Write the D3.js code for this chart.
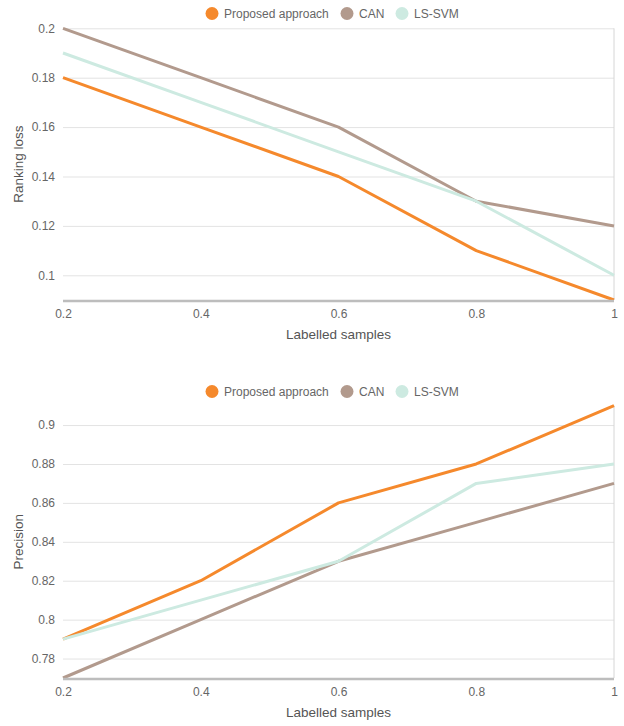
<!DOCTYPE html>
<html><head><meta charset="utf-8">
<script src="https://cdn.jsdelivr.net/npm/d3@7"></script>
<style>body{margin:0;background:#fff;}svg{display:block;font-family:"Liberation Sans",Arial,sans-serif;}</style>
</head><body>
<svg id="c" width="624" height="726"></svg>
<script>
const xValues = [0.2, 0.4, 0.6, 0.8, 1];
const seriesNames = ["Proposed approach", "CAN", "LS-SVM"];
const seriesColors = ["#f5892c", "#b29a8d", "#cdeae1"];
const rankProposed = [0.18, 0.16, 0.14, 0.11, 0.09];
const rankCAN = [0.20, 0.18, 0.16, 0.13, 0.12];
const rankLSSVM = [0.19, 0.17, 0.15, 0.13, 0.10];
const precProposed = [0.79, 0.82, 0.86, 0.88, 0.91];
const precCAN = [0.77, 0.80, 0.83, 0.85, 0.87];
const precLSSVM = [0.79, 0.81, 0.83, 0.87, 0.88];
const rankTicks = [0.1, 0.12, 0.14, 0.16, 0.18, 0.2];
const precTicks = [0.78, 0.8, 0.82, 0.84, 0.86, 0.88, 0.9];
const xTicks = [0.2, 0.4, 0.6, 0.8, 1];

const svg = d3.select("#c");
const left = 63, right = 614;
const FONT = "'Liberation Sans', Arial, sans-serif";

function panel(cfg) {
  const g = svg.append("g");
  const x = d3.scaleLinear().domain([0.2, 1]).range([left, right]);
  const y = d3.scaleLinear().domain(cfg.domain).range([cfg.bottom, cfg.top]);
  // legend
  const lg = g.append("g");
  const legX = [212, 347, 402];
  seriesNames.forEach((n, i) => {
    lg.append("circle").attr("cx", legX[i]).attr("cy", cfg.legendY).attr("r", 6.5).attr("fill", seriesColors[i]);
    lg.append("text").attr("x", legX[i] + 12).attr("y", cfg.legendY + 4.3).attr("font-size", 12).attr("fill", "#666").text(n);
  });
  // grid
  const yAxis = d3.axisLeft(y).tickValues(cfg.ticks).tickSize(-(right - left)).tickPadding(8).tickFormat(d => String(+d.toFixed(2)));
  const ya = g.append("g").attr("transform", `translate(${left},0)`).call(yAxis);
  ya.select(".domain").remove();
  ya.selectAll("line").attr("stroke", "#e3e3e3");
  ya.selectAll("text").attr("fill", "#666").attr("font-size", 12).attr("font-family", FONT);
  // right border
  g.append("line").attr("x1", right).attr("x2", right).attr("y1", cfg.top).attr("y2", cfg.bottom).attr("stroke", "#d6d6d6");
  // lines
  const line = d3.line().x((d, i) => x(xValues[i])).y(d => y(d));
  cfg.data.forEach((arr, i) => {
    g.append("path").datum(arr).attr("d", line).attr("fill", "none").attr("stroke", seriesColors[i]).attr("stroke-width", 3).attr("stroke-linejoin", "round");
  });
  // x axis
  const xAxis = d3.axisBottom(x).tickValues(xTicks).tickSize(0).tickPadding(8).tickFormat(d => String(+d.toFixed(1)));
  const xa = g.append("g").attr("transform", `translate(0,${cfg.bottom + 1})`).call(xAxis);
  xa.select(".domain").remove();
  xa.selectAll("text").attr("fill", "#666").attr("font-size", 12).attr("font-family", FONT);
  g.append("line").attr("x1", left).attr("x2", right).attr("y1", cfg.bottom + 1).attr("y2", cfg.bottom + 1).attr("stroke", "#bdbdbd").attr("stroke-width", 2.5);
  g.append("text").attr("x", (left + right) / 2).attr("y", cfg.bottom + 39).attr("text-anchor", "middle").attr("font-size", 13.5).attr("fill", "#555").text("Labelled samples");
  g.append("text").attr("transform", `translate(23,${(cfg.top + cfg.bottom) / 2}) rotate(-90)`).attr("text-anchor", "middle").attr("font-size", 13.5).attr("fill", "#555").text(cfg.yTitle);
}

panel({ domain: [0.09, 0.2], top: 28.3, bottom: 300, ticks: rankTicks, legendY: 13.5, yTitle: "Ranking loss", data: [rankProposed, rankCAN, rankLSSVM] });
panel({ domain: [0.77, 0.91], top: 405.6, bottom: 678, ticks: precTicks, legendY: 391.5, yTitle: "Precision", data: [precProposed, precCAN, precLSSVM] });
</script>
</body></html>
